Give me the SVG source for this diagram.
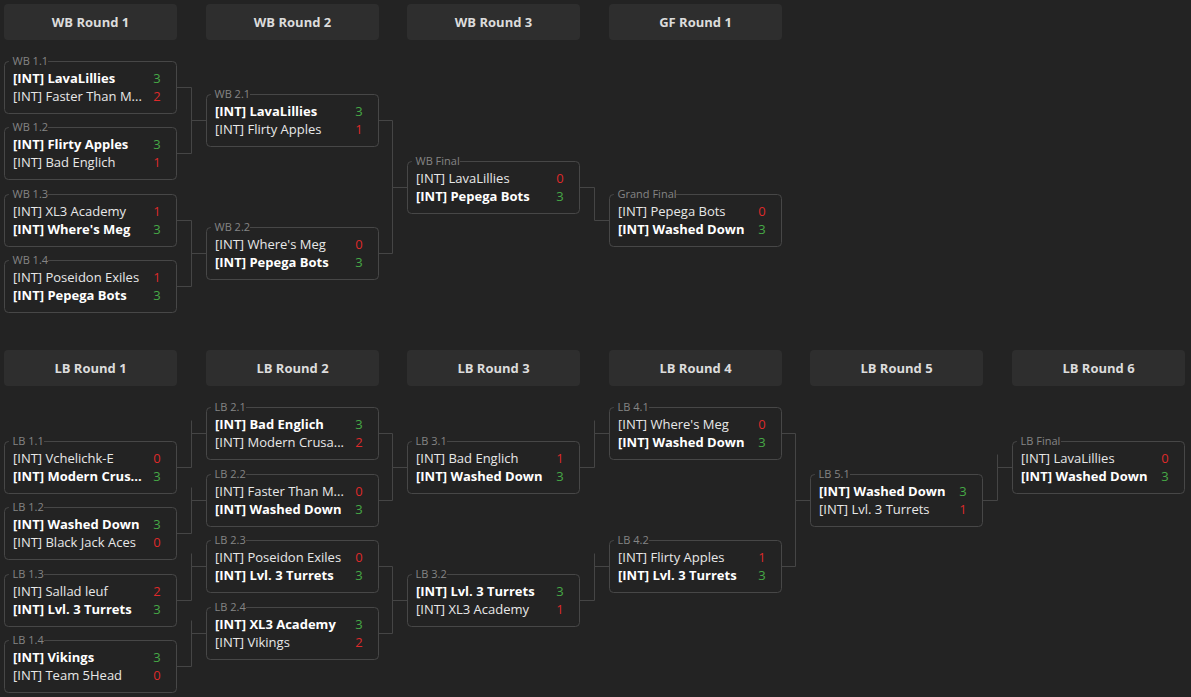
<svg xmlns="http://www.w3.org/2000/svg" width="1191" height="697" viewBox="0 0 1191 697">
<style>
.bg{fill:#232323}
.hdr rect{fill:#2e2e2e}
.hdr text{font-family:"Open Sans","Noto Sans",sans-serif;font-size:13px;font-weight:700;fill:#dcdcdc;text-anchor:middle}
.box{fill:#232323;stroke:#474747;stroke-width:1}
.lblbg{fill:#232323}
.lbl{font-family:"Open Sans","Noto Sans",sans-serif;font-size:11px;fill:#858585}
.t{font-family:"Open Sans","Noto Sans",sans-serif;font-size:13px;fill:#e8e8e8}
.w{font-weight:700;fill:#ffffff}
.s{font-family:"Open Sans","Noto Sans",sans-serif;font-size:13px;text-anchor:middle}
.g{fill:#46a846}
.r{fill:#de2a2a}
.conn path{fill:none;stroke:#454545;stroke-width:1}
</style>
<rect class="bg" x="0" y="0" width="1191" height="697"/>

<g id="headers">
<g id="h-wb1" class="hdr"><rect x="4" y="4" width="173" height="36" rx="4"/><text x="90.5" y="26.5">WB Round 1</text></g>
<g id="h-wb2" class="hdr"><rect x="206" y="4" width="173" height="36" rx="4"/><text x="292.5" y="26.5">WB Round 2</text></g>
<g id="h-wb3" class="hdr"><rect x="407" y="4" width="173" height="36" rx="4"/><text x="493.5" y="26.5">WB Round 3</text></g>
<g id="h-gf1" class="hdr"><rect x="609" y="4" width="173" height="36" rx="4"/><text x="695.5" y="26.5">GF Round 1</text></g>
<g id="h-lb1" class="hdr"><rect x="4" y="350" width="173" height="36" rx="4"/><text x="90.5" y="372.5">LB Round 1</text></g>
<g id="h-lb2" class="hdr"><rect x="206" y="350" width="173" height="36" rx="4"/><text x="292.5" y="372.5">LB Round 2</text></g>
<g id="h-lb3" class="hdr"><rect x="407" y="350" width="173" height="36" rx="4"/><text x="493.5" y="372.5">LB Round 3</text></g>
<g id="h-lb4" class="hdr"><rect x="609" y="350" width="173" height="36" rx="4"/><text x="695.5" y="372.5">LB Round 4</text></g>
<g id="h-lb5" class="hdr"><rect x="810" y="350" width="173" height="36" rx="4"/><text x="896.5" y="372.5">LB Round 5</text></g>
<g id="h-lb6" class="hdr"><rect x="1012" y="350" width="173" height="36" rx="4"/><text x="1098.5" y="372.5">LB Round 6</text></g>
</g>

<g id="connectors" class="conn">
<path d="M176.5,87.5 H191.5 V153.5 H176.5 M191.5,120.5 H206.5"/>
<path d="M176.5,220.5 H191.5 V286.5 H176.5 M191.5,253.5 H206.5"/>
<path d="M378.5,120.5 H392.5 V253.5 H378.5 M392.5,187.5 H407.5"/>
<path d="M579.5,187.5 H594.5 V220.5 H609.5"/>
<path d="M176.5,467.5 H191.5 V420.5 M191.5,433.5 H206.5"/>
<path d="M176.5,533.5 H191.5 V487.5 M191.5,500.5 H206.5"/>
<path d="M176.5,600.5 H191.5 V553.5 M191.5,566.5 H206.5"/>
<path d="M176.5,666.5 H191.5 V620.5 M191.5,633.5 H206.5"/>
<path d="M378.5,433.5 H392.5 V500.5 H378.5 M392.5,467.5 H407.5"/>
<path d="M378.5,566.5 H392.5 V633.5 H378.5 M392.5,600.5 H407.5"/>
<path d="M579.5,467.5 H594.5 V420.5 M594.5,433.5 H609.5"/>
<path d="M579.5,600.5 H594.5 V553.5 M594.5,566.5 H609.5"/>
<path d="M781.5,433.5 H795.5 V566.5 H781.5 M795.5,500.5 H810.5"/>
<path d="M982.5,500.5 H997.5 V454.5 M997.5,467.5 H1012.5"/>
</g>

<g id="wb1-1" transform="translate(4,61)"><rect class="box" x="0.5" y="0.5" width="172" height="52" rx="4"/><rect class="lblbg" x="5" y="-3" width="39" height="6"/><text class="lbl" x="8.5" y="3.5">WB 1.1</text><text class="t w" x="9" y="21.5">[INT] LavaLillies</text><text class="s g" x="153" y="21.5">3</text><text class="t" x="9" y="40">[INT] Faster Than M...</text><text class="s r" x="153" y="40">2</text></g>
<g id="wb1-2" transform="translate(4,127)"><rect class="box" x="0.5" y="0.5" width="172" height="52" rx="4"/><rect class="lblbg" x="5" y="-3" width="39" height="6"/><text class="lbl" x="8.5" y="3.5">WB 1.2</text><text class="t w" x="9" y="21.5">[INT] Flirty Apples</text><text class="s g" x="153" y="21.5">3</text><text class="t" x="9" y="40">[INT] Bad Englich</text><text class="s r" x="153" y="40">1</text></g>
<g id="wb1-3" transform="translate(4,194)"><rect class="box" x="0.5" y="0.5" width="172" height="52" rx="4"/><rect class="lblbg" x="5" y="-3" width="39" height="6"/><text class="lbl" x="8.5" y="3.5">WB 1.3</text><text class="t" x="9" y="21.5">[INT] XL3 Academy</text><text class="s r" x="153" y="21.5">1</text><text class="t w" x="9" y="40">[INT] Where's Meg</text><text class="s g" x="153" y="40">3</text></g>
<g id="wb1-4" transform="translate(4,260)"><rect class="box" x="0.5" y="0.5" width="172" height="52" rx="4"/><rect class="lblbg" x="5" y="-3" width="39" height="6"/><text class="lbl" x="8.5" y="3.5">WB 1.4</text><text class="t" x="9" y="21.5">[INT] Poseidon Exiles</text><text class="s r" x="153" y="21.5">1</text><text class="t w" x="9" y="40">[INT] Pepega Bots</text><text class="s g" x="153" y="40">3</text></g>

<g id="wb2-1" transform="translate(206,94)"><rect class="box" x="0.5" y="0.5" width="172" height="52" rx="4"/><rect class="lblbg" x="5" y="-3" width="39" height="6"/><text class="lbl" x="8.5" y="3.5">WB 2.1</text><text class="t w" x="9" y="21.5">[INT] LavaLillies</text><text class="s g" x="153" y="21.5">3</text><text class="t" x="9" y="40">[INT] Flirty Apples</text><text class="s r" x="153" y="40">1</text></g>
<g id="wb2-2" transform="translate(206,227)"><rect class="box" x="0.5" y="0.5" width="172" height="52" rx="4"/><rect class="lblbg" x="5" y="-3" width="39" height="6"/><text class="lbl" x="8.5" y="3.5">WB 2.2</text><text class="t" x="9" y="21.5">[INT] Where's Meg</text><text class="s r" x="153" y="21.5">0</text><text class="t w" x="9" y="40">[INT] Pepega Bots</text><text class="s g" x="153" y="40">3</text></g>

<g id="wb-final" transform="translate(407,161)"><rect class="box" x="0.5" y="0.5" width="172" height="52" rx="4"/><rect class="lblbg" x="5" y="-3" width="48" height="6"/><text class="lbl" x="8.5" y="3.5">WB Final</text><text class="t" x="9" y="21.5">[INT] LavaLillies</text><text class="s r" x="153" y="21.5">0</text><text class="t w" x="9" y="40">[INT] Pepega Bots</text><text class="s g" x="153" y="40">3</text></g>

<g id="grand-final" transform="translate(609,194)"><rect class="box" x="0.5" y="0.5" width="172" height="52" rx="4"/><rect class="lblbg" x="5" y="-3" width="62" height="6"/><text class="lbl" x="8.5" y="3.5">Grand Final</text><text class="t" x="9" y="21.5">[INT] Pepega Bots</text><text class="s r" x="153" y="21.5">0</text><text class="t w" x="9" y="40">[INT] Washed Down</text><text class="s g" x="153" y="40">3</text></g>

<g id="lb1-1" transform="translate(4,441)"><rect class="box" x="0.5" y="0.5" width="172" height="52" rx="4"/><rect class="lblbg" x="5" y="-3" width="35" height="6"/><text class="lbl" x="8.5" y="3.5">LB 1.1</text><text class="t" x="9" y="21.5">[INT] Vchelichk-E</text><text class="s r" x="153" y="21.5">0</text><text class="t w" x="9" y="40">[INT] Modern Crus...</text><text class="s g" x="153" y="40">3</text></g>
<g id="lb1-2" transform="translate(4,507)"><rect class="box" x="0.5" y="0.5" width="172" height="52" rx="4"/><rect class="lblbg" x="5" y="-3" width="35" height="6"/><text class="lbl" x="8.5" y="3.5">LB 1.2</text><text class="t w" x="9" y="21.5">[INT] Washed Down</text><text class="s g" x="153" y="21.5">3</text><text class="t" x="9" y="40">[INT] Black Jack Aces</text><text class="s r" x="153" y="40">0</text></g>
<g id="lb1-3" transform="translate(4,574)"><rect class="box" x="0.5" y="0.5" width="172" height="52" rx="4"/><rect class="lblbg" x="5" y="-3" width="35" height="6"/><text class="lbl" x="8.5" y="3.5">LB 1.3</text><text class="t" x="9" y="21.5">[INT] Sallad leuf</text><text class="s r" x="153" y="21.5">2</text><text class="t w" x="9" y="40">[INT] Lvl. 3 Turrets</text><text class="s g" x="153" y="40">3</text></g>
<g id="lb1-4" transform="translate(4,640)"><rect class="box" x="0.5" y="0.5" width="172" height="52" rx="4"/><rect class="lblbg" x="5" y="-3" width="35" height="6"/><text class="lbl" x="8.5" y="3.5">LB 1.4</text><text class="t w" x="9" y="21.5">[INT] Vikings</text><text class="s g" x="153" y="21.5">3</text><text class="t" x="9" y="40">[INT] Team 5Head</text><text class="s r" x="153" y="40">0</text></g>

<g id="lb2-1" transform="translate(206,407)"><rect class="box" x="0.5" y="0.5" width="172" height="52" rx="4"/><rect class="lblbg" x="5" y="-3" width="35" height="6"/><text class="lbl" x="8.5" y="3.5">LB 2.1</text><text class="t w" x="9" y="21.5">[INT] Bad Englich</text><text class="s g" x="153" y="21.5">3</text><text class="t" x="9" y="40">[INT] Modern Crusa...</text><text class="s r" x="153" y="40">2</text></g>
<g id="lb2-2" transform="translate(206,474)"><rect class="box" x="0.5" y="0.5" width="172" height="52" rx="4"/><rect class="lblbg" x="5" y="-3" width="35" height="6"/><text class="lbl" x="8.5" y="3.5">LB 2.2</text><text class="t" x="9" y="21.5">[INT] Faster Than M...</text><text class="s r" x="153" y="21.5">0</text><text class="t w" x="9" y="40">[INT] Washed Down</text><text class="s g" x="153" y="40">3</text></g>
<g id="lb2-3" transform="translate(206,540)"><rect class="box" x="0.5" y="0.5" width="172" height="52" rx="4"/><rect class="lblbg" x="5" y="-3" width="35" height="6"/><text class="lbl" x="8.5" y="3.5">LB 2.3</text><text class="t" x="9" y="21.5">[INT] Poseidon Exiles</text><text class="s r" x="153" y="21.5">0</text><text class="t w" x="9" y="40">[INT] Lvl. 3 Turrets</text><text class="s g" x="153" y="40">3</text></g>
<g id="lb2-4" transform="translate(206,607)"><rect class="box" x="0.5" y="0.5" width="172" height="52" rx="4"/><rect class="lblbg" x="5" y="-3" width="35" height="6"/><text class="lbl" x="8.5" y="3.5">LB 2.4</text><text class="t w" x="9" y="21.5">[INT] XL3 Academy</text><text class="s g" x="153" y="21.5">3</text><text class="t" x="9" y="40">[INT] Vikings</text><text class="s r" x="153" y="40">2</text></g>

<g id="lb3-1" transform="translate(407,441)"><rect class="box" x="0.5" y="0.5" width="172" height="52" rx="4"/><rect class="lblbg" x="5" y="-3" width="35" height="6"/><text class="lbl" x="8.5" y="3.5">LB 3.1</text><text class="t" x="9" y="21.5">[INT] Bad Englich</text><text class="s r" x="153" y="21.5">1</text><text class="t w" x="9" y="40">[INT] Washed Down</text><text class="s g" x="153" y="40">3</text></g>
<g id="lb3-2" transform="translate(407,574)"><rect class="box" x="0.5" y="0.5" width="172" height="52" rx="4"/><rect class="lblbg" x="5" y="-3" width="35" height="6"/><text class="lbl" x="8.5" y="3.5">LB 3.2</text><text class="t w" x="9" y="21.5">[INT] Lvl. 3 Turrets</text><text class="s g" x="153" y="21.5">3</text><text class="t" x="9" y="40">[INT] XL3 Academy</text><text class="s r" x="153" y="40">1</text></g>

<g id="lb4-1" transform="translate(609,407)"><rect class="box" x="0.5" y="0.5" width="172" height="52" rx="4"/><rect class="lblbg" x="5" y="-3" width="35" height="6"/><text class="lbl" x="8.5" y="3.5">LB 4.1</text><text class="t" x="9" y="21.5">[INT] Where's Meg</text><text class="s r" x="153" y="21.5">0</text><text class="t w" x="9" y="40">[INT] Washed Down</text><text class="s g" x="153" y="40">3</text></g>
<g id="lb4-2" transform="translate(609,540)"><rect class="box" x="0.5" y="0.5" width="172" height="52" rx="4"/><rect class="lblbg" x="5" y="-3" width="35" height="6"/><text class="lbl" x="8.5" y="3.5">LB 4.2</text><text class="t" x="9" y="21.5">[INT] Flirty Apples</text><text class="s r" x="153" y="21.5">1</text><text class="t w" x="9" y="40">[INT] Lvl. 3 Turrets</text><text class="s g" x="153" y="40">3</text></g>

<g id="lb5-1" transform="translate(810,474)"><rect class="box" x="0.5" y="0.5" width="172" height="52" rx="4"/><rect class="lblbg" x="5" y="-3" width="35" height="6"/><text class="lbl" x="8.5" y="3.5">LB 5.1</text><text class="t w" x="9" y="21.5">[INT] Washed Down</text><text class="s g" x="153" y="21.5">3</text><text class="t" x="9" y="40">[INT] Lvl. 3 Turrets</text><text class="s r" x="153" y="40">1</text></g>

<g id="lb-final" transform="translate(1012,441)"><rect class="box" x="0.5" y="0.5" width="172" height="52" rx="4"/><rect class="lblbg" x="5" y="-3" width="44" height="6"/><text class="lbl" x="8.5" y="3.5">LB Final</text><text class="t" x="9" y="21.5">[INT] LavaLillies</text><text class="s r" x="153" y="21.5">0</text><text class="t w" x="9" y="40">[INT] Washed Down</text><text class="s g" x="153" y="40">3</text></g>
</svg>
